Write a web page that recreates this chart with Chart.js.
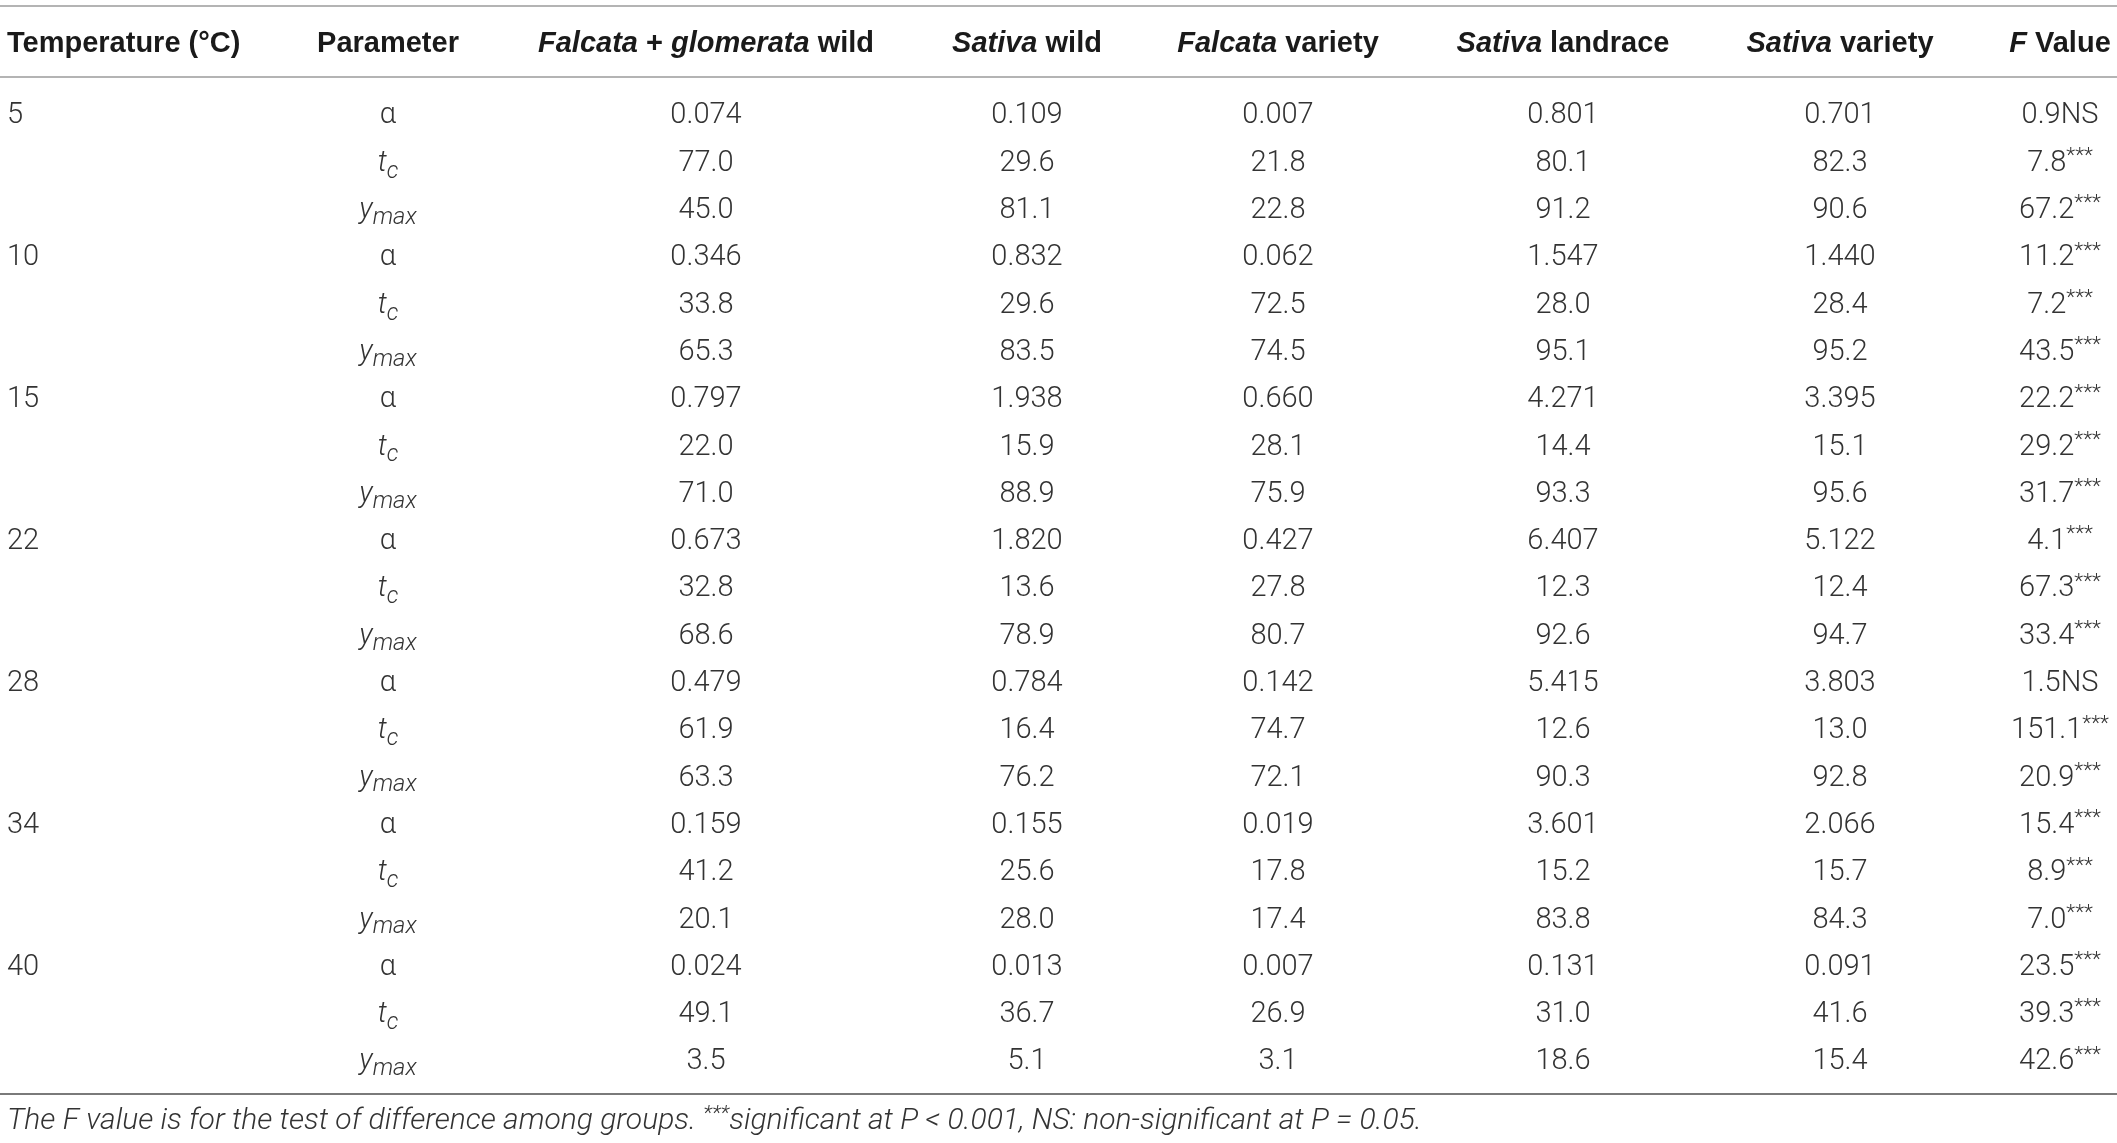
<!DOCTYPE html>
<html>
<head>
<meta charset="utf-8">
<script src="https://cdn.jsdelivr.net/npm/chart.js@4.4.0/dist/chart.umd.min.js"></script>
<style>
  html, body { margin: 0; padding: 0; background: #fff; }
  #wrap { width: 2117px; height: 1143px; position: relative; }
</style>
</head>
<body>
<div id="wrap"><canvas id="table"></canvas></div>
<script>
const temperatures = ['5', '10', '15', '22', '28', '34', '40']
const parameters = ['alpha', 'tc', 'ymax']

const falcataGlomerataWild = [0.074, 77.0, 45.0, 0.346, 33.8, 65.3, 0.797, 22.0, 71.0, 0.673, 32.8, 68.6, 0.479, 61.9, 63.3, 0.159, 41.2, 20.1, 0.024, 49.1, 3.5]
const sativaWild = [0.109, 29.6, 81.1, 0.832, 29.6, 83.5, 1.938, 15.9, 88.9, 1.820, 13.6, 78.9, 0.784, 16.4, 76.2, 0.155, 25.6, 28.0, 0.013, 36.7, 5.1]
const falcataVariety = [0.007, 21.8, 22.8, 0.062, 72.5, 74.5, 0.660, 28.1, 75.9, 0.427, 27.8, 80.7, 0.142, 74.7, 72.1, 0.019, 17.8, 17.4, 0.007, 26.9, 3.1]
const sativaLandrace = [0.801, 80.1, 91.2, 1.547, 28.0, 95.1, 4.271, 14.4, 93.3, 6.407, 12.3, 92.6, 5.415, 12.6, 90.3, 3.601, 15.2, 83.8, 0.131, 31.0, 18.6]
const sativaVariety = [0.701, 82.3, 90.6, 1.440, 28.4, 95.2, 3.395, 15.1, 95.6, 5.122, 12.4, 94.7, 3.803, 13.0, 92.8, 2.066, 15.7, 84.3, 0.091, 41.6, 15.4]
const fValues = [0.9, 7.8, 67.2, 11.2, 7.2, 43.5, 22.2, 29.2, 31.7, 4.1, 67.3, 33.4, 1.5, 151.1, 20.9, 15.4, 8.9, 7.0, 23.5, 39.3, 42.6]
const fSignificance = ['NS', '***', '***', '***', '***', '***', '***', '***', '***', '***', '***', '***', 'NS', '***', '***', '***', '***', '***', '***', '***', '***']

// header labels, [text, italic] pieces
const headers = [
  [['Temperature (°C)', false]],
  [['Parameter', false]],
  [['Falcata', true], [' + ', false], ['glomerata', true], [' wild', false]],
  [['Sativa', true], [' wild', false]],
  [['Falcata', true], [' variety', false]],
  [['Sativa', true], [' landrace', false]],
  [['Sativa', true], [' variety', false]],
  [['F', true], [' Value', false]]
]
const footnote = 'The F value is for the test of difference among groups. ***significant at P < 0.001, NS: non-significant at P = 0.05.'

// ---- layout (pixels on x, row units on y) ----
const colX = [7, 388, 706, 1027, 1278, 1563, 1840, 2060]
const colAlign = ['left', 'center', 'center', 'center', 'center', 'center', 'center', 'center']
const headerRow = -1.52
const ruleRows = [-2.26, -0.76, 20.74]
const ruleColors = ['#b4b4b4', '#b4b4b4', '#7a7a7a']
const footRow = 21.25

const BODY = '"Roboto", "Liberation Sans", sans-serif'
const HEAD = '"Liberation Sans", "Roboto", sans-serif'
const bodySize = 29
const headSize = 29
const footSize = 30
const textColor = '#333333'

const nRows = temperatures.length * parameters.length

function fmt(v, r) {
  return parameters[r % 3] == 'alpha' ? v.toFixed(3) : v.toFixed(1)
}

// each cell becomes a list of rich pieces: {t, italic, bold, size, shift}
function plain(t) { return [{ t: t }] }
function paramCell(p) {
  if (p == 'alpha') return [{ t: 'α' }]
  if (p == 'tc') return [{ t: 't', italic: true }, { t: 'c', italic: true, size: 0.8, shift: 0.24 }]
  return [{ t: 'y', italic: true }, { t: 'max', italic: true, size: 0.82, shift: 0.2 }]
}
const stars = { t: '***', size: 0.72, shift: -0.3 }

const columns = [
  { cells: Array.from({ length: nRows }, (_, r) => plain(r % 3 == 0 ? temperatures[r / 3] : '')) },
  { cells: Array.from({ length: nRows }, (_, r) => paramCell(parameters[r % 3])) },
  { cells: falcataGlomerataWild.map((v, r) => plain(fmt(v, r))) },
  { cells: sativaWild.map((v, r) => plain(fmt(v, r))) },
  { cells: falcataVariety.map((v, r) => plain(fmt(v, r))) },
  { cells: sativaLandrace.map((v, r) => plain(fmt(v, r))) },
  { cells: sativaVariety.map((v, r) => plain(fmt(v, r))) },
  { cells: fValues.map((v, r) => fSignificance[r] == 'NS'
      ? [{ t: v.toFixed(1) + 'NS' }]
      : [{ t: v.toFixed(1) }, stars]) }
]

function pieceFont(p, base, family) {
  let size = base * (p.size || 1)
  return (p.italic ? 'italic ' : '') + (p.bold ? 'bold ' : (family == BODY ? '300 ' : '')) + size + 'px ' + family
}

function drawRich(ctx, pieces, x, y, align, base, family, color) {
  let total = 0
  let widths = pieces.map(p => { ctx.font = pieceFont(p, base, family); let w = ctx.measureText(p.t).width; total += w; return w })
  let cx = align == 'left' ? x : align == 'right' ? x - total : x - total / 2
  let baseline = y + base * 0.36
  ctx.fillStyle = color
  ctx.textAlign = 'left'
  ctx.textBaseline = 'alphabetic'
  pieces.forEach((p, i) => {
    ctx.font = pieceFont(p, base, family)
    ctx.fillText(p.t, cx, baseline + (p.shift || 0) * base)
    cx += widths[i]
  })
}

const tablePlugin = {
  id: 'tableText',
  afterDatasetsDraw(chart) {
    const ctx = chart.ctx
    const xs = chart.scales.x, ys = chart.scales.y
    ctx.save()
    // rules
    ruleRows.forEach((r, i) => {
      const y = Math.round(ys.getPixelForValue(r))
      ctx.strokeStyle = ruleColors[i]
      ctx.lineWidth = 2
      ctx.beginPath()
      ctx.moveTo(chart.chartArea.left, y)
      ctx.lineTo(chart.chartArea.right, y)
      ctx.stroke()
    })
    // header
    headers.forEach((h, c) => {
      const pieces = h.map(([t, it]) => ({ t: t, italic: it, bold: true }))
      drawRich(ctx, pieces, xs.getPixelForValue(colX[c]), ys.getPixelForValue(headerRow), colAlign[c], headSize, HEAD, '#1a1a1a')
    })
    // cells, placed at the points the library laid out
    chart.data.datasets.forEach((ds, c) => {
      chart.getDatasetMeta(c).data.forEach((el, r) => {
        drawRich(ctx, columns[c].cells[r], el.x, el.y, colAlign[c], bodySize, BODY, textColor)
      })
    })
    // footnote
    const fp = []
    footnote.split('***').forEach((s, i) => {
      if (i > 0) fp.push({ t: '***', italic: true, size: 0.7, shift: -0.3 })
      fp.push({ t: s, italic: true })
    })
    drawRich(ctx, fp, xs.getPixelForValue(colX[0]), ys.getPixelForValue(footRow), 'left', footSize, BODY, '#333333')
    ctx.restore()
  }
}

new Chart(document.getElementById('table'), {
  type: 'scatter',
  data: {
    datasets: columns.map((col, c) => ({
      label: headers[c].map(p => p[0]).join(''),
      data: col.cells.map((_, r) => ({ x: colX[c], y: r })),
      pointRadius: 0,
      pointHoverRadius: 0
    }))
  },
  options: {
    responsive: true,
    maintainAspectRatio: false,
    animation: false,
    devicePixelRatio: 1,
    layout: { padding: 0 },
    events: [],
    plugins: { legend: { display: false }, tooltip: { enabled: false } },
    scales: {
      x: { type: 'linear', min: 0, max: 2117, display: false },
      y: { type: 'linear', min: -2.389, max: 21.776, reverse: true, display: false }
    }
  },
  plugins: [tablePlugin]
})
</script>
</body>
</html>
